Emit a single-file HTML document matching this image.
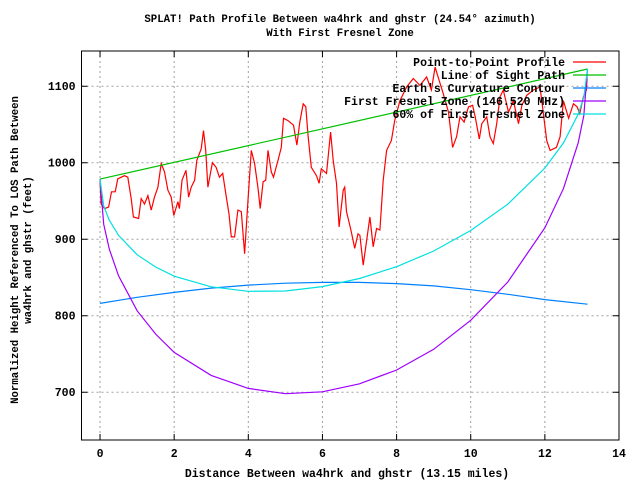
<!DOCTYPE html>
<html><head><meta charset="utf-8"><style>
body{margin:0;background:#fff}
svg text{font-family:"Liberation Mono",monospace;font-size:11.5px;font-weight:bold;fill:#000}
svg text.title{font-size:10.7px}
</style></head><body>
<svg id="chart" width="640" height="480" xmlns="http://www.w3.org/2000/svg">
<text class="title" x="340" y="22" text-anchor="middle">SPLAT! Path Profile Between wa4hrk and ghstr (24.54° azimuth)</text>
<text class="title" x="340" y="36" text-anchor="middle">With First Fresnel Zone</text>
<text x="347" y="477" text-anchor="middle">Distance Between wa4hrk and ghstr (13.15 miles)</text>
<g transform="translate(18,250) rotate(-90)">
<text class="title" x="0" y="0" text-anchor="middle">Normalized Height Referenced To LOS Path Between</text>
<text class="title" x="0" y="13" text-anchor="middle">wa4hrk and ghstr (feet)</text>
</g>
<g id="grid"></g><g id="series"></g><g id="axes"></g><g id="legend"></g>
</svg>
<script>
const xTicks=[0,2,4,6,8,10,12,14];
const yTicks=[700,800,900,1000,1100];
const profileX=[0,0.03,0.12,0.23,0.31,0.41,0.48,0.66,0.75,0.84,0.90,1.04,1.11,1.20,1.29,1.38,1.47,1.56,1.65,1.74,1.83,1.92,1.99,2.10,2.14,2.21,2.32,2.39,2.46,2.55,2.61,2.73,2.79,2.85,2.91,3.03,3.13,3.22,3.31,3.40,3.48,3.54,3.63,3.72,3.81,3.90,3.99,4.08,4.17,4.26,4.32,4.40,4.47,4.53,4.62,4.68,4.80,4.89,4.95,5.07,5.22,5.31,5.39,5.48,5.55,5.61,5.70,5.84,5.91,5.97,6.11,6.22,6.29,6.38,6.45,6.56,6.60,6.65,6.72,6.78,6.87,6.96,7.01,7.10,7.28,7.37,7.46,7.55,7.64,7.73,7.86,7.95,8.09,8.27,8.45,8.63,8.81,8.94,9.04,9.12,9.26,9.40,9.51,9.62,9.71,9.82,9.94,10.05,10.12,10.23,10.30,10.43,10.52,10.61,10.70,10.79,10.88,11.02,11.15,11.29,11.38,11.51,11.69,11.87,11.96,12.05,12.14,12.31,12.41,12.50,12.64,12.77,12.87,12.94,13.04,13.12,13.14];
const profileY=[978,946,940,942,962,962,979,983,981,953,929,927,953,946,957,938,955,968,999,988,964,955,931,949,940,977,990,955,968,977,1003,1018,1042,1016,968,1000,994,981,986,957,933,903,903,938,936,881,949,1016,999,968,940,975,977,1016,988,981,1003,1020,1058,1055,1049,1023,1053,1077,1073,1036,994,983,973,992,986,1040,1003,973,916,964,968,936,922,909,888,907,905,866,929,890,914,912,977,1016,1029,1055,1081,1099,1110,1101,1112,1095,1125,1112,1090,1066,1020,1034,1060,1053,1073,1075,1060,1031,1051,1060,1034,1025,1051,1086,1095,1066,1081,1051,1075,1088,1095,1099,1064,1029,1016,1020,1034,1081,1058,1077,1073,1064,1086,1095,1110];
const losX=[0,13.15];
const losY=[978.5,1122.5];
const curveX=[0,1,2,3,4,5,6,7,8,9,10,11,12,13.15];
const curveY=[816,824,830.5,836,840,842.5,843.5,843.5,842,839,834,828,821,815];
const fresX=[0,0.1,0.25,0.5,1,1.5,2,3,4,5,6,7,8,9,10,11,12,12.5,12.9,13.05,13.15];
const fresY=[978.5,919.6,887,852,806.5,776,752,722,705,698,700.5,711,729,756,794,844,915,966,1026,1061.4,1122.5];
const fres60Y=[978.5,943.6,924.8,905,879.7,863.6,851.6,837.7,831.9,832.3,838,848.6,864,884.5,911.4,945.8,993,1025.7,1063.4,1085.4,1122.5];
const L=81.5,R=619,T=51,B=440;
const xMin=-0.5,xMax=14,yMin=637.5,yMax=1146;
const sx=v=>L+(v-xMin)/(xMax-xMin)*(R-L);
const sy=v=>B-(v-yMin)/(yMax-yMin)*(B-T);
const NS='http://www.w3.org/2000/svg';
function mk(tag,parent,attrs){const e=document.createElementNS(NS,tag);for(const k in attrs)e.setAttribute(k,attrs[k]);parent.appendChild(e);return e;}
const grid=document.getElementById('grid'),axes=document.getElementById('axes'),series=document.getElementById('series'),legend=document.getElementById('legend');
xTicks.forEach(t=>{const x=sx(t);
 if(t>xMin&&t<xMax){const g=mk('line',grid,{x1:x,x2:x,y1:T,y2:B,stroke:'#a0a0a0','stroke-dasharray':'2,3'});
 }
 const tk=mk('path',axes,{d:`M${x},${B}v-6M${x},${T}v6`,stroke:'#000'});
 
 const tx=mk('text',axes,{x:x,y:B+17,'text-anchor':'middle'});tx.textContent=t;
 });
yTicks.forEach(t=>{const y=sy(t);
 const g=mk('line',grid,{x1:L,x2:R,y1:y,y2:y,stroke:'#a0a0a0','stroke-dasharray':'2,3'});
 
 const tk=mk('path',axes,{d:`M${L},${y}h6M${R},${y}h-6`,stroke:'#000'});
 
 const tx=mk('text',axes,{x:L-6,y:y+4,'text-anchor':'end'});tx.textContent=t;
 });
const fr=mk('rect',axes,{x:L,y:T,width:R-L,height:B-T,fill:'none',stroke:'#000'});

function line(xs,ys,color,name){const d=xs.map((v,i)=>(i?'L':'M')+sx(v).toFixed(1)+','+sy(ys[i]).toFixed(1)).join('');
 const p=mk('path',series,{d:d,fill:'none',stroke:color,'stroke-width':1.2});
 }
line(profileX,profileY,'#ff0000','profile-line');
line(losX,losY,'#00c000','line-of-sight');
line(curveX,curveY,'#0080ff','earth-curvature');
line(fresX,fresY,'#a000ff','first-fresnel-zone');
line(fresX,fres60Y,'#00e0e0','fresnel-60-percent');
const labels=['Point-to-Point Profile','Line of Sight Path',"Earth's Curvature Contour",'First Fresnel Zone (146.520 MHz)','60% of First Fresnel Zone'];
const colors=['#ff0000','#00c000','#0080ff','#a000ff','#00e0e0'];
labels.forEach((s,i)=>{const y=62+i*13;
 const g=mk('g',legend,{});
 const t=mk('text',g,{x:565,y:y+4,'text-anchor':'end'});t.textContent=s;
 mk('line',g,{x1:573,x2:606,y1:y,y2:y,stroke:colors[i],'stroke-width':1.2});});
</script>
</body></html>
